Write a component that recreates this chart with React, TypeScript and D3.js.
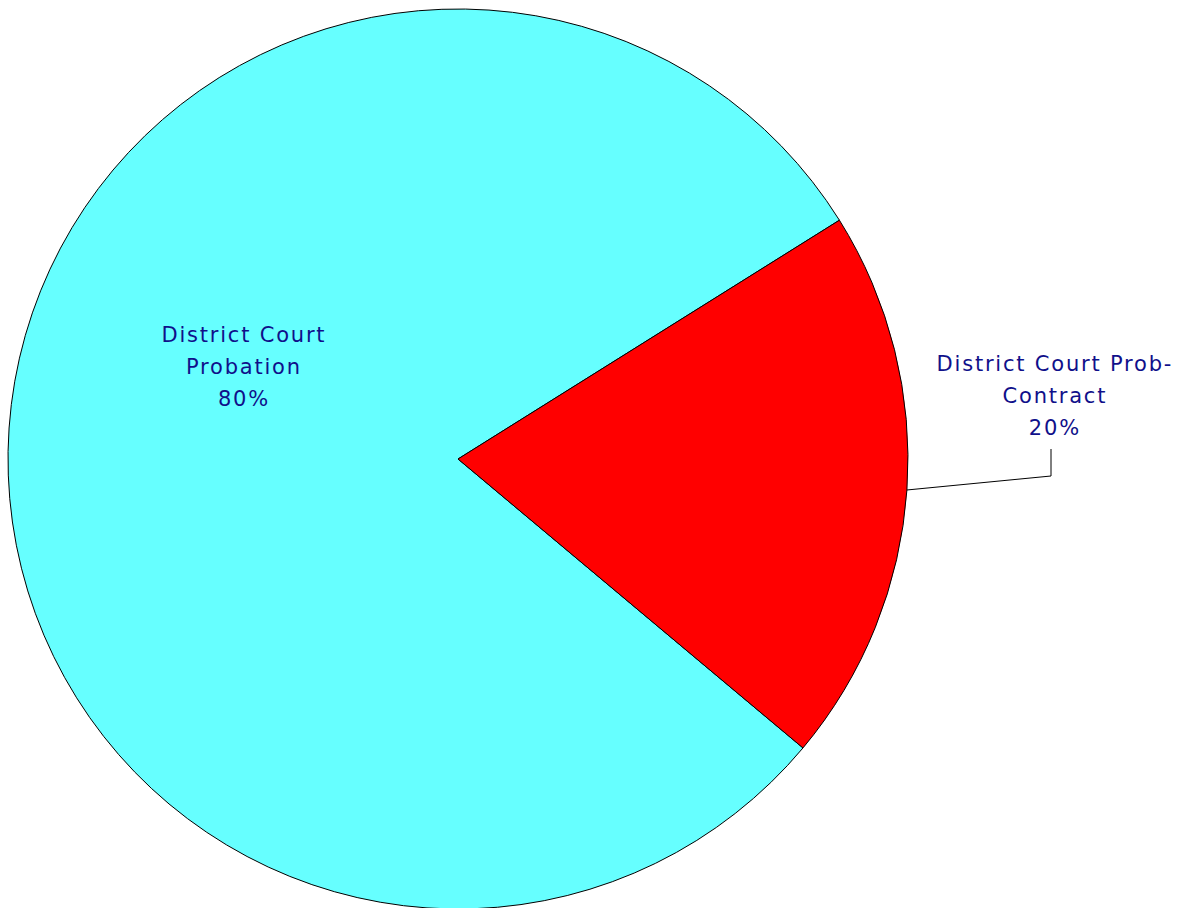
import React from "react";
import * as d3 from "d3";

const categories = ["District Court Probation", "District Court Prob-Contract"];
const values = [80, 20];
const colors = ["#66FFFF", "#FF0000"];
const labelLines = [
  ["District Court", "Probation", "80%"],
  ["District Court Prob-", "Contract", "20%"],
];

export default function App() {
  const W = 1183, H = 908;
  const cx = 458, cy = 459, r = 450;
  const startDeg = 129.95;
  const pie = d3
    .pie<number>()
    .sort(null)
    .startAngle((startDeg * Math.PI) / 180)
    .endAngle(((startDeg + 360) * Math.PI) / 180);
  const arcs = pie(values);
  const arcGen = d3.arc<d3.PieArcDatum<number>>().innerRadius(0).outerRadius(r);

  const font = "'DejaVu Sans', sans-serif";
  const fs = 21;
  const ls = 1.8;
  const lh = 32;
  const textColor = "#10108A";

  const labelPos = [
    { x: 243 - cx, y: 335 - cy },
    { x: 1054 - cx, y: 364 - cy },
  ];

  const red = arcs[1];
  const mid = (red.startAngle + red.endAngle) / 2;
  const p0 = [Math.sin(mid) * r, -Math.cos(mid) * r];
  const kneeX = 1051 - cx;
  const kneeY = 476 - cy;
  const topY = 449 - cy;

  return (
    <svg
      width={W}
      height={H}
      style={{ position: "absolute", left: 0, top: 0, background: "#fff" }}
    >
      <g transform={`translate(${cx},${cy})`}>
        {arcs.map((a, i) => (
          <path
            key={categories[i]}
            d={arcGen(a) || ""}
            fill={colors[i]}
            stroke="#000"
            strokeWidth={1}
          />
        ))}
        <path
          d={`M${p0[0]},${p0[1]}L${kneeX},${kneeY}L${kneeX},${topY}`}
          fill="none"
          stroke="#000"
          strokeWidth={1}
        />
        {labelLines.map((lines, i) => (
          <text
            key={i}
            textAnchor="middle"
            fontFamily={font}
            fontSize={fs}
            letterSpacing={ls}
            fill={textColor}
          >
            {lines.map((t, j) => (
              <tspan
                key={j}
                x={labelPos[i].x + ls / 2}
                y={labelPos[i].y + j * lh}
                dominantBaseline="central"
              >
                {t}
              </tspan>
            ))}
          </text>
        ))}
      </g>
    </svg>
  );
}
